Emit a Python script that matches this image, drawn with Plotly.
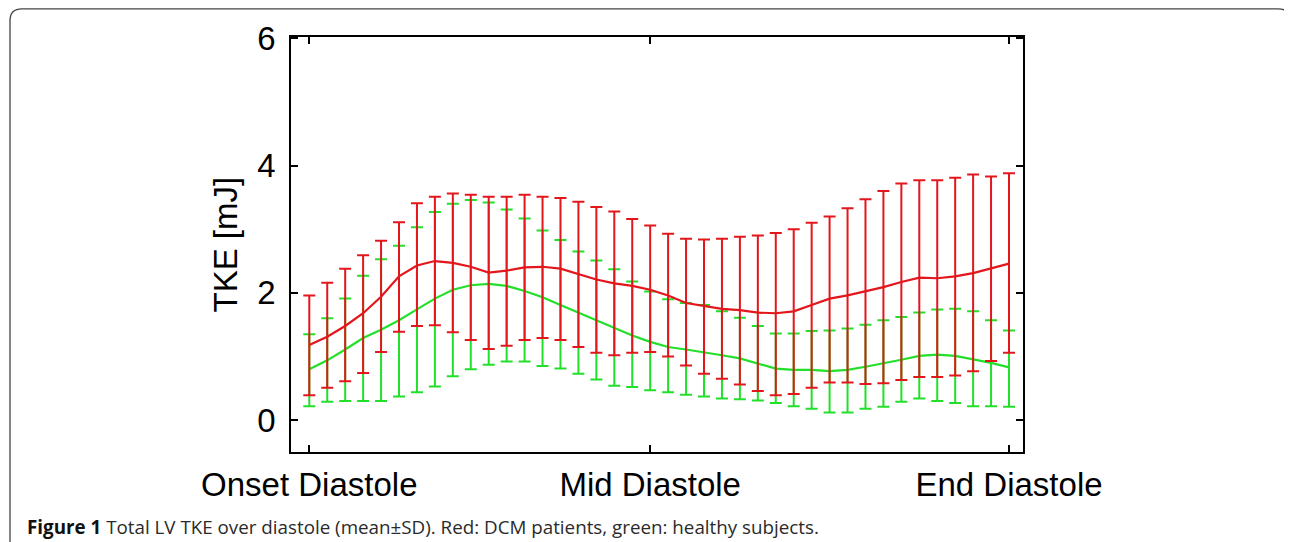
import plotly.graph_objects as go

# ---- data ----
x_idx = list(range(40))
tick_vals = [0, 19, 39]
tick_text = ["Onset Diastole", "Mid Diastole", "End Diastole"]
y_ticks = [0, 2, 4, 6]

red_mean = [1.18, 1.31, 1.48, 1.68, 1.94, 2.26, 2.43, 2.50, 2.47, 2.41,
            2.32, 2.35, 2.40, 2.41, 2.38, 2.30, 2.21, 2.15, 2.11, 2.05,
            1.96, 1.84, 1.79, 1.75, 1.73, 1.69, 1.68, 1.71, 1.81, 1.91,
            1.96, 2.02, 2.09, 2.17, 2.24, 2.23, 2.26, 2.31, 2.38, 2.46]
red_upper = [1.96, 2.16, 2.38, 2.59, 2.82, 3.11, 3.41, 3.51, 3.56, 3.54,
             3.51, 3.51, 3.54, 3.51, 3.49, 3.43, 3.35, 3.28, 3.16, 3.06,
             2.93, 2.85, 2.84, 2.85, 2.88, 2.90, 2.94, 3.00, 3.10, 3.20,
             3.33, 3.47, 3.60, 3.72, 3.77, 3.77, 3.81, 3.86, 3.83, 3.88]
red_lower = [0.39, 0.51, 0.61, 0.74, 1.07, 1.39, 1.48, 1.49, 1.38, 1.26,
             1.12, 1.17, 1.26, 1.29, 1.26, 1.15, 1.06, 1.02, 1.06, 1.07,
             1.00, 0.86, 0.73, 0.65, 0.56, 0.46, 0.39, 0.41, 0.51, 0.59,
             0.59, 0.57, 0.58, 0.63, 0.68, 0.68, 0.70, 0.77, 0.93, 1.06]

green_mean = [0.80, 0.94, 1.11, 1.29, 1.42, 1.57, 1.74, 1.91, 2.05, 2.12,
              2.14, 2.11, 2.03, 1.93, 1.81, 1.69, 1.57, 1.45, 1.33, 1.23,
              1.15, 1.11, 1.07, 1.02, 0.97, 0.89, 0.81, 0.79, 0.79, 0.77,
              0.79, 0.84, 0.89, 0.95, 1.01, 1.03, 1.01, 0.96, 0.90, 0.83]
green_upper = [1.35, 1.60, 1.91, 2.27, 2.53, 2.74, 3.03, 3.27, 3.40, 3.46,
               3.42, 3.31, 3.17, 2.98, 2.83, 2.65, 2.51, 2.37, 2.18, 2.02,
               1.90, 1.84, 1.81, 1.71, 1.61, 1.48, 1.36, 1.36, 1.40, 1.41,
               1.44, 1.50, 1.57, 1.62, 1.69, 1.74, 1.75, 1.71, 1.57, 1.41]
green_lower = [0.22, 0.29, 0.30, 0.30, 0.30, 0.37, 0.44, 0.53, 0.69, 0.80,
               0.87, 0.92, 0.92, 0.85, 0.81, 0.73, 0.64, 0.54, 0.52, 0.47,
               0.44, 0.40, 0.37, 0.34, 0.33, 0.31, 0.27, 0.22, 0.18, 0.12,
               0.12, 0.18, 0.21, 0.29, 0.34, 0.30, 0.27, 0.22, 0.22, 0.21]

caption_bold = "Figure 1"
caption_rest = " Total LV TKE over diastole (mean±SD). Red: DCM patients, green: healthy subjects."

RED = "#e3161c"
GREEN = "#22e02a"

# the page body has an 8px margin: work in figure pixels = page pixels - 8
OFF = 8
W, H = 1292 - OFF, 542 - OFF
L, R, T, B = 291 - OFF, 1023 - OFF, 37 - OFF, 452 - OFF


def px_x(p):
    """page x pixel -> paper coordinate"""
    return (p - OFF - L) / (R - L)


def px_y(p):
    """page y pixel -> paper coordinate"""
    return (B - (p - OFF)) / (B - T)


fig = go.Figure()


def add_series(mean, upper, lower, color):
    plus = [u - m for u, m in zip(upper, mean)]
    minus = [m - lo for m, lo in zip(mean, lower)]
    fig.add_trace(go.Scatter(
        x=x_idx, y=mean, mode="lines",
        line=dict(color=color, width=2.2),
        error_y=dict(type="data", symmetric=False, array=plus, arrayminus=minus,
                     color=color, thickness=2, width=6),
        showlegend=False, hoverinfo="skip"))


add_series(green_mean, green_upper, green_lower, GREEN)
add_series(red_mean, red_upper, red_lower, RED)

axis_font = dict(family="Liberation Sans, Arial, sans-serif", size=33, color="black")

fig.update_xaxes(
    range=[-1.02, 39.78], tickvals=tick_vals, ticktext=tick_text,
    showline=True, linecolor="black", linewidth=1.5, mirror="ticks",
    ticks="inside", ticklen=7, tickwidth=1.5, tickcolor="black",
    showgrid=False, zeroline=False, tickfont=axis_font, ticklabelstandoff=3)
fig.update_yaxes(
    range=[-0.5, 6.02], tickvals=y_ticks,
    showline=True, linecolor="black", linewidth=1.5, mirror="ticks",
    ticks="inside", ticklen=7, tickwidth=1.5, tickcolor="black",
    showgrid=False, zeroline=False, tickfont=axis_font, ticklabelstandoff=7)

annotations = [
    dict(text="TKE [mJ]", x=px_x(225), y=0.5, xref="paper", yref="paper",
         textangle=-90, showarrow=False, font=axis_font,
         xanchor="center", yanchor="middle"),
    dict(text="<b><span style='color:#111111'>" + caption_bold + "</span></b>" + caption_rest,
         x=px_x(25), y=px_y(527), xref="paper", yref="paper",
         showarrow=False, xanchor="left", yanchor="middle",
         font=dict(family="Open Sans, sans-serif", size=18.8, color="#2a2a2a")),
]

# outer rounded frame (page pixels)
x0, x1, y0, y1, r = 10, 1290, 8.8, 560, 12
path = (f"M {px_x(x0)},{px_y(y1)} L {px_x(x0)},{px_y(y0 + r)} "
        f"Q {px_x(x0)},{px_y(y0)} {px_x(x0 + r)},{px_y(y0)} "
        f"L {px_x(x1 - r)},{px_y(y0)} "
        f"Q {px_x(x1)},{px_y(y0)} {px_x(x1)},{px_y(y0 + r)} "
        f"L {px_x(x1)},{px_y(y1)}")
shapes = [dict(type="path", path=path, xref="paper", yref="paper",
               line=dict(color="#444444", width=1.3))]

fig.update_layout(
    width=W, height=H,
    margin=dict(l=L, r=W - R, t=T, b=H - B, autoexpand=False),
    paper_bgcolor="white", plot_bgcolor="white",
    annotations=annotations, shapes=shapes, showlegend=False)

fig.write_html("out.html")
